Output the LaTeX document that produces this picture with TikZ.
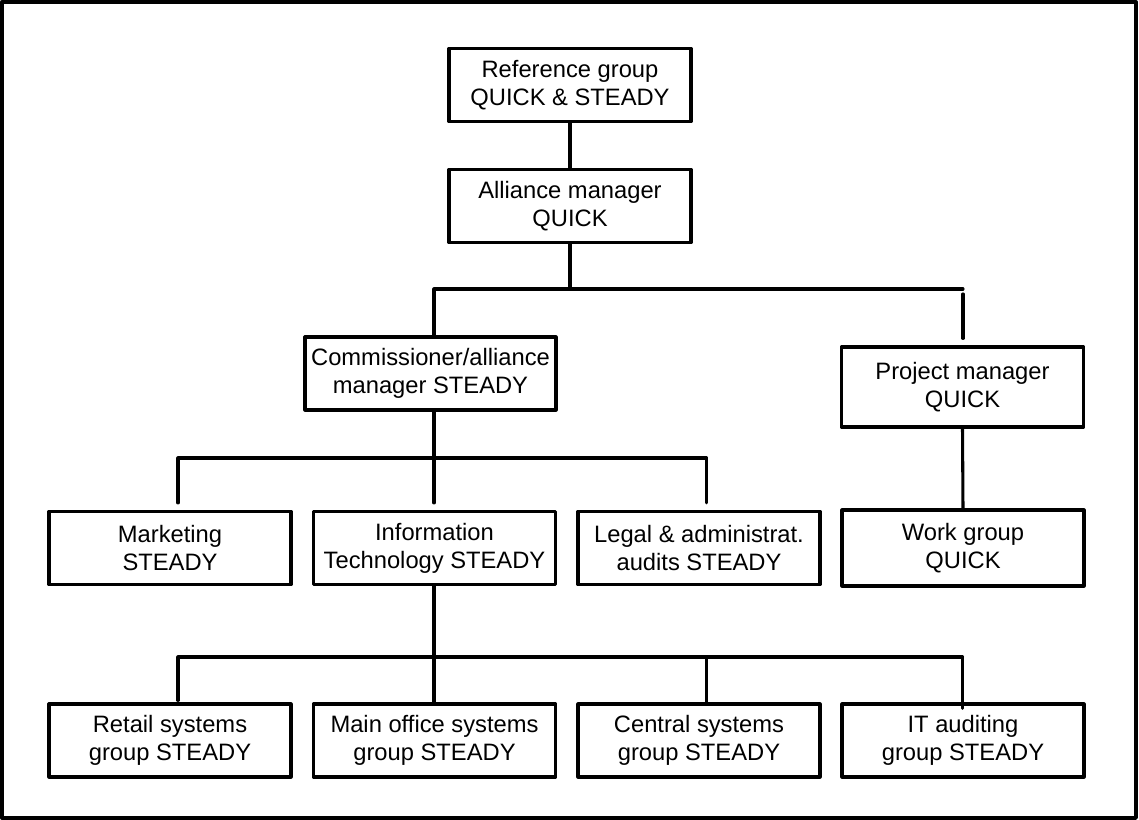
\documentclass[tikz,border=0pt]{standalone}
\usepackage{fontspec}
\setmainfont{Liberation Sans}
\usepackage{tikz}
\usetikzlibrary{calc,positioning}

\begin{document}
\begin{tikzpicture}[line cap=round,line join=round,x=0.75pt,y=-0.75pt,
  unit/.style={draw,line width=2.4pt,rectangle,align=center,inner sep=0pt,
    minimum width=181.5pt,minimum height=54.75pt,
    font=\fontsize{17.8}{20.8}\selectfont},
  link/.style={line width=2.3pt},
  gap/.style={shorten >=5.25pt}]
\useasboundingbox (0,0) rectangle (1139,820);
\draw[line width=2.6pt] (1.8,1.8) rectangle (1136,818);
% boxes
\node[unit] (ref) at (570,85) {Reference group\\QUICK \& STEADY};
\node[unit] (alliance) at (570,206) {Alliance manager\\QUICK};
\node[unit,minimum width=188.25pt] (comm) at (430.5,373.5) {Commissioner/alliance\\manager STEADY};
\node[unit,minimum height=60pt] (proj) at (962.5,387) {Project manager\\QUICK};
\node[unit] (mkt) at (170,548) {Marketing\\STEADY};
\node[unit] (it) at (434.5,548) {Information\\Technology STEADY};
\node[unit] (legal) at (699,548) {Legal \& administrat.\\audits STEADY};
\node[unit,minimum height=57pt] (work) at (963,548) {Work group\\QUICK};
\node[unit] (retail) at (170,740.5) {Retail systems\\group STEADY};
\node[unit] (mainoff) at (434.5,740.5) {Main office systems\\group STEADY};
\node[unit] (central) at (699,740.5) {Central systems\\group STEADY};
\node[unit] (itaud) at (963,740.5) {IT auditing\\group STEADY};
% bus points
\coordinate (busA) at (570,289);
\coordinate (busAl) at (434,289);
\coordinate (busAr) at (963,289);
\coordinate (busB) at (434,458);
\coordinate (busBl) at (178,458);
\coordinate (busBr) at (706.6,458);
\coordinate (busC) at (434,657);
\coordinate (busCl) at (178,657);
\coordinate (busCm) at (706.6,657);
\coordinate (busCr) at (962.5,657);
% connectors
\draw[link] (ref.south) -- (alliance.north);
\draw[link] (alliance.south) -- (busA);
\draw[link] (busAl |- comm.north) -- (busAl) -- (busAr);
\draw[link,shorten <=3.75pt,gap] (busAr) -- (busAr |- proj.north);
\draw[link] (proj.south) -- (work.north);
\draw[link,gap] (busB |- comm.south) -- (busB |- it.north);
\draw[link,shorten <=5.25pt,gap] (busBl |- mkt.north) -- (busBl) -- (busBr) -- (busBr |- legal.north);
\draw[link] (busC |- it.south) -- (busC |- mainoff.north);
\draw[link,shorten <=1.5pt] (busCl |- retail.north) -- (busCl) -- (busCr);
\draw[link] (busCm) -- (busCm |- central.north);
\draw[link,shorten >=-4.5pt] (busCr) -- (busCr |- itaud.north);
\end{tikzpicture}
\end{document}
